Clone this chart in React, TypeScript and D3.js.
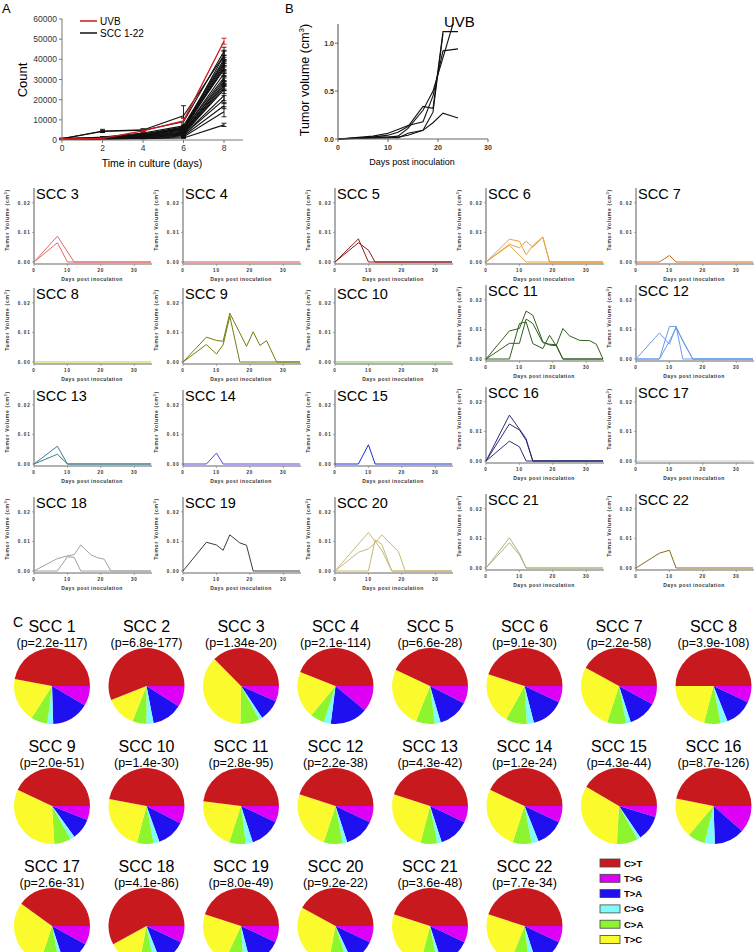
import React from 'react';
import * as d3 from 'd3';

const FONT = "'Liberation Sans', Arial, Helvetica, sans-serif";

// ---------- Panel A data ----------
const growthDays = [0, 2, 4, 6, 8];
const growthTicksY = [0, 10000, 20000, 30000, 40000, 50000, 60000];
const uvbGrowth = [500, 800, 4500, 9500, 49000];
const uvbGrowthErr = [200, 300, 500, 1200, 1500];
const sccGrowth = [
  [600, 4500, 5000, 12000, 42000],
  [700, 4200, 4800, 9000, 44000],
  [500, 1500, 3500, 7000, 40000],
  [600, 800, 3000, 6000, 38000],
  [500, 700, 2500, 5000, 36000],
  [800, 1200, 3000, 5500, 42000],
  [600, 900, 2000, 4500, 33000],
  [500, 600, 1800, 4000, 30000],
  [700, 1000, 2500, 6000, 35000],
  [400, 500, 1500, 3500, 28000],
  [600, 800, 2200, 5000, 31000],
  [500, 700, 1600, 3000, 26000],
  [500, 600, 1500, 3500, 27000],
  [600, 900, 2800, 6500, 39000],
  [500, 600, 1200, 2500, 22000],
  [400, 500, 1000, 2000, 17000],
  [500, 700, 1400, 3000, 25000],
  [600, 800, 2000, 4000, 29000],
  [400, 500, 900, 1500, 14000],
  [500, 600, 1100, 2500, 20000],
  [300, 400, 700, 1000, 7500],
  [500, 800, 2500, 5500, 37000],
];
const sccGrowthErr = [
  [100, 800, 600, 5000, 2500],
  [100, 500, 500, 2000, 2000],
  [100, 200, 300, 800, 2000],
  [100, 100, 300, 700, 1800],
  [100, 100, 300, 600, 2200],
  [100, 200, 300, 600, 2000],
  [100, 100, 200, 500, 1500],
  [100, 100, 200, 500, 2000],
  [100, 100, 300, 600, 1800],
  [100, 100, 200, 400, 1500],
  [100, 100, 200, 500, 2000],
  [100, 100, 200, 400, 1500],
  [100, 100, 200, 400, 1800],
  [100, 100, 300, 700, 2000],
  [100, 100, 200, 300, 2500],
  [100, 100, 100, 300, 1500],
  [100, 100, 200, 400, 2000],
  [100, 100, 200, 400, 1800],
  [100, 100, 100, 200, 2500],
  [100, 100, 100, 300, 2000],
  [100, 100, 100, 200, 800],
  [100, 100, 300, 600, 2000],
];

// ---------- Panel B data (days, volume cm3) ----------
const uvbTumor1 = [[0, 0], [7, 0.02], [10, 0.04], [12, 0.07], [14, 0.13], [17, 0.34], [19, 0.32], [21, 1.12], [24, 1.12]];
const uvbTumor2 = [[0, 0], [7, 0.03], [10, 0.06], [12, 0.1], [14, 0.14], [17, 0.18], [19, 0.45], [21, 0.92], [24, 0.94]];
const uvbTumor3 = [[0, 0], [7, 0.01], [10, 0.02], [12, 0.03], [14, 0.11], [17, 0.3], [19, 0.5], [23, 1.2]];
const uvbTumor4 = [[0, 0], [7, 0.01], [10, 0.01], [12, 0.02], [14, 0.04], [17, 0.09], [19, 0.17], [21, 0.27], [24, 0.22]];
const uvbTumor5 = [[0, 0], [7, 0.02], [10, 0.02], [12, 0.01], [14, 0.06], [17, 0.09], [19, 0.28], [21, 1.1]];
const uvbTumorLines = [uvbTumor1, uvbTumor2, uvbTumor3, uvbTumor4, uvbTumor5];

// ---------- Small multiples data ----------
const multiNames = ['SCC 3', 'SCC 4', 'SCC 5', 'SCC 6', 'SCC 7', 'SCC 8', 'SCC 9', 'SCC 10', 'SCC 11', 'SCC 12',
  'SCC 13', 'SCC 14', 'SCC 15', 'SCC 16', 'SCC 17', 'SCC 18', 'SCC 19', 'SCC 20', 'SCC 21', 'SCC 22'];
const multiColors = ['#e26868', '#d94a4a', '#8b1c1c', '#e8a33d', '#d2691e', '#c9c93c', '#7a7a10', '#7cc04a', '#2f5f1f', '#6a9be8',
  '#3e7c8c', '#6040e8', '#1a2ed0', '#2c2c7a', '#c8c8c8', '#a0a0a0', '#3a3a3a', '#c8b878', '#b0b080', '#8a6a1a'];
const scc3 = [[[0, 0], [7, 0.0087], [12, 0]], [[0, 0], [7, 0.0065], [10, 0]]];
const scc4 = [[[0, 0], [35, 0]]];
const scc5 = [[[0, 0], [7, 0.0078], [10, 0]], [[0, 0], [7, 0.0065], [10, 0.004], [12, 0]]];
const scc6 = [
  [[0, 0], [7, 0.0077], [10, 0.007], [12, 0.0025], [14, 0.0055], [17, 0.0085], [19, 0]],
  [[0, 0], [7, 0.006], [10, 0.0048], [12, 0.007], [14, 0.005], [17, 0.0083], [19, 0]],
  [[0, 0], [7, 0.0057], [12, 0]],
];
const scc7 = [[[0, 0], [7, 0], [10, 0.0022], [12, 0]]];
const scc8 = [[[0, 0], [35, 0]]];
const scc9 = [
  [[0, 0], [7, 0.0084], [10, 0.0073], [12, 0.007], [14, 0.0165], [19, 0.0053], [21, 0.0102], [23, 0.0056], [25, 0.0072], [28, 0]],
  [[0, 0], [7, 0.0059], [10, 0.0027], [12, 0.0058], [14, 0.0155], [17, 0]],
];
const scc10 = [[[0, 0], [35, 0]]];
const scc11 = [
  [[0, 0], [7, 0.0095], [10, 0.0103], [12, 0.0162], [14, 0.0148], [17, 0.0058], [19, 0.0047], [21, 0.0045], [23, 0.0103], [25, 0.0078], [28, 0.0063], [31, 0.0062], [33, 0.005], [35, 0]],
  [[0, 0], [7, 0.0053], [10, 0.0053], [12, 0.0135], [14, 0.012], [17, 0.0055], [19, 0.005], [21, 0.0048], [23, 0]],
  [[0, 0], [7, 0], [10, 0.012], [12, 0.0125], [14, 0.0052], [17, 0.0035], [19, 0.008], [21, 0.0045], [23, 0]],
];
const scc12 = [
  [[0, 0], [7, 0.0088], [10, 0.005], [12, 0.011], [14, 0]],
  [[0, 0], [7, 0], [10, 0.011], [12, 0.011], [14, 0.006], [17, 0]],
  [[0, 0], [7, 0], [10, 0.006], [12, 0.0105], [17, 0]],
];
const scc13 = [[[0, 0], [7, 0.006], [10, 0]], [[0, 0], [7, 0.0033], [10, 0]]];
const scc14 = [[[0, 0], [7, 0], [10, 0.0037], [12, 0]]];
const scc15 = [[[0, 0], [7, 0], [10, 0.0065], [12, 0]]];
const scc16 = [
  [[0, 0], [7, 0.0155], [10, 0.0108], [12, 0.0075], [14, 0]],
  [[0, 0], [7, 0.0125], [10, 0.0105], [12, 0.007], [14, 0]],
  [[0, 0], [7, 0.0067], [10, 0.0048], [12, 0]],
];
const scc17 = [[[0, 0], [35, 0]]];
const scc18 = [
  [[0, 0], [7, 0.0042], [10, 0.0051], [12, 0.0055], [14, 0.0088], [17, 0.0055], [19, 0.0045], [21, 0.004], [23, 0]],
  [[0, 0], [7, 0], [10, 0.0048], [12, 0.0046], [14, 0]],
];
const scc19 = [[[0, 0], [7, 0.0097], [10, 0.0088], [12, 0.007], [14, 0.0122], [17, 0.0095], [19, 0.0087], [21, 0]]];
const scc20 = [
  [[0, 0], [10, 0.013], [12, 0.01], [14, 0.007], [17, 0]],
  [[0, 0], [7, 0.0063], [10, 0.0075], [12, 0.0095], [14, 0.0122], [19, 0.0065], [21, 0]],
  [[0, 0], [7, 0], [10, 0], [12, 0.0105], [14, 0.009], [17, 0]],
];
const scc21 = [[[0, 0], [7, 0.0102], [10, 0.005], [12, 0]], [[0, 0], [7, 0.0085], [10, 0.0045], [12, 0]]];
const scc22 = [[[0, 0], [7, 0.005], [10, 0.006], [12, 0]]];
const multiData = [scc3, scc4, scc5, scc6, scc7, scc8, scc9, scc10, scc11, scc12, scc13, scc14, scc15, scc16, scc17, scc18, scc19, scc20, scc21, scc22];
const multiTicksX = [0, 10, 20, 30];
const multiTicksY = [0, 0.01, 0.02];

// ---------- Pie data ----------
const mutationTypes = ['C>T', 'T>G', 'T>A', 'C>G', 'C>A', 'T>C'];
const mutationColors = ['#c8191e', '#dd00f5', '#1f10f0', '#80fafa', '#8cf52e', '#fafa2c'];
const pieNames = ['SCC 1', 'SCC 2', 'SCC 3', 'SCC 4', 'SCC 5', 'SCC 6', 'SCC 7', 'SCC 8', 'SCC 9', 'SCC 10', 'SCC 11',
  'SCC 12', 'SCC 13', 'SCC 14', 'SCC 15', 'SCC 16', 'SCC 17', 'SCC 18', 'SCC 19', 'SCC 20', 'SCC 21', 'SCC 22'];
const piePValues = ['2.2e-117', '6.8e-177', '1.34e-20', '2.1e-114', '6.6e-28', '9.1e-30', '2.2e-58', '3.9e-108',
  '2.0e-51', '1.4e-30', '2.8e-95', '2.2e-38', '4.3e-42', '1.2e-24', '4.3e-44', '8.7e-126',
  '2.6e-31', '4.1e-86', '8.0e-49', '9.2e-22', '3.6e-48', '7.7e-34'];
const fracCT = [0.47, 0.56, 0.37, 0.44, 0.43, 0.45, 0.42, 0.50, 0.43, 0.47, 0.48, 0.45, 0.45, 0.43, 0.42, 0.47, 0.40, 0.58, 0.45, 0.42, 0.45, 0.45];
const fracTG = [0.085, 0.09, 0.065, 0.11, 0.075, 0.07, 0.08, 0.07, 0.06, 0.075, 0.07, 0.07, 0.07, 0.07, 0.047, 0.115, 0.08, 0.07, 0.07, 0.07, 0.07, 0.07];
const fracTA = [0.16, 0.13, 0.09, 0.16, 0.13, 0.14, 0.12, 0.12, 0.09, 0.12, 0.13, 0.13, 0.13, 0.12, 0.11, 0.13, 0.12, 0.12, 0.14, 0.11, 0.13, 0.13];
const fracCG = [0.025, 0.03, 0.015, 0.03, 0.025, 0.03, 0.02, 0.03, 0.02, 0.025, 0.03, 0.02, 0.02, 0.03, 0.015, 0.043, 0.02, 0.03, 0.03, 0.02, 0.02, 0.03];
const fracCA = [0.07, 0.06, 0.08, 0.06, 0.08, 0.09, 0.08, 0.07, 0.07, 0.07, 0.07, 0.08, 0.07, 0.08, 0.09, 0.075, 0.08, 0.06, 0.08, 0.08, 0.07, 0.08];
const fracTC = [0.19, 0.13, 0.37, 0.20, 0.26, 0.22, 0.28, 0.21, 0.33, 0.24, 0.22, 0.25, 0.26, 0.27, 0.33, 0.17, 0.30, 0.14, 0.23, 0.30, 0.26, 0.24];

function PanelA() {
  const x = d3.scaleLinear().domain([0, 8]).range([62, 224]);
  const y = d3.scaleLinear().domain([0, 60000]).range([140, 19]);
  const line = d3.line<number>().x((_, i) => x(growthDays[i])).y((d) => y(d));
  const errBars = (vals: number[], errs: number[], color: string, key: string) =>
    vals.map((v, i) => {
      const e = errs[i];
      const xx = x(growthDays[i]);
      return (
        <g key={key + i} stroke={color} strokeWidth={0.9}>
          <line x1={xx} x2={xx} y1={y(v - e)} y2={y(v + e)} />
          <line x1={xx - 2.5} x2={xx + 2.5} y1={y(v + e)} y2={y(v + e)} />
          <line x1={xx - 2.5} x2={xx + 2.5} y1={y(v - e)} y2={y(v - e)} />
        </g>
      );
    });
  return (
    <g>
      <text x={2} y={13} fontSize={13}>A</text>
      {sccGrowth.map((s, i) => (
        <path key={'l' + i} d={line(s) || ''} fill="none" stroke="#111" strokeWidth={1.1} />
      ))}
      {sccGrowth.map((s, i) => errBars(s, sccGrowthErr[i], '#111', 'e' + i))}
      <path d={line(uvbGrowth) || ''} fill="none" stroke="#d01818" strokeWidth={1.3} />
      {errBars(uvbGrowth, uvbGrowthErr, '#d01818', 'u')}
      <line x1={62} x2={62} y1={19} y2={140} stroke="#777" strokeWidth={1} />
      <line x1={62} x2={243} y1={140} y2={140} stroke="#777" strokeWidth={1} />
      {growthTicksY.map((t) => (
        <g key={'yt' + t}>
          <line x1={59} x2={62} y1={y(t)} y2={y(t)} stroke="#777" />
          <text x={57} y={y(t) + 3} fontSize={8.5} textAnchor="end" fill="#333">{t}</text>
        </g>
      ))}
      {growthDays.map((t) => (
        <g key={'xt' + t}>
          <line x1={x(t)} x2={x(t)} y1={140} y2={143} stroke="#777" />
          <text x={x(t)} y={151} fontSize={8.5} textAnchor="middle" fill="#333">{t}</text>
        </g>
      ))}
      <text transform="translate(27,80) rotate(-90)" fontSize={13} textAnchor="middle">Count</text>
      <text x={152} y={167} fontSize={10.5} textAnchor="middle">Time in culture (days)</text>
      <line x1={80} x2={97} y1={21} y2={21} stroke="#d01818" strokeWidth={1.5} />
      <text x={100} y={24.5} fontSize={10}>UVB</text>
      <line x1={80} x2={97} y1={33} y2={33} stroke="#111" strokeWidth={1.5} />
      <text x={100} y={36.5} fontSize={10}>SCC 1-22</text>
    </g>
  );
}

function PanelB() {
  const x = d3.scaleLinear().domain([0, 30]).range([338, 488]);
  const y = d3.scaleLinear().domain([0, 1.2]).range([139, 24]);
  const line = d3.line<number[]>().x((d) => x(d[0])).y((d) => y(d[1]));
  return (
    <g>
      <text x={285} y={13} fontSize={13}>B</text>
      {uvbTumorLines.map((l, i) => (
        <path key={i} d={line(l) || ''} fill="none" stroke="#111" strokeWidth={1.1} />
      ))}
      <line x1={338} x2={338} y1={24} y2={139} stroke="#666" strokeWidth={1.2} />
      <line x1={338} x2={488} y1={139} y2={139} stroke="#666" strokeWidth={1.2} />
      {[0, 0.5, 1.0].map((t) => (
        <g key={'y' + t}>
          <line x1={335} x2={338} y1={y(t)} y2={y(t)} stroke="#666" />
          <text x={334} y={y(t) + 2.5} fontSize={7} fontWeight="bold" textAnchor="end" fill="#333">{d3.format('.1f')(t)}</text>
        </g>
      ))}
      {[0, 10, 20, 30].map((t) => (
        <g key={'x' + t}>
          <line x1={x(t)} x2={x(t)} y1={139} y2={142} stroke="#666" />
          <text x={x(t)} y={150} fontSize={7} fontWeight="bold" textAnchor="middle" fill="#333">{t}</text>
        </g>
      ))}
      <text x={444} y={27} fontSize={15}>UVB</text>
      <text transform="translate(309,80) rotate(-90)" fontSize={12.5} textAnchor="middle">
        Tumor volume (cm<tspan fontSize={8} dy={-5}>3</tspan><tspan dy={5}>)</tspan>
      </text>
      <text x={412} y={165} fontSize={9} textAnchor="middle">Days post inoculation</text>
    </g>
  );
}

const colX = [34, 183, 335, 486, 636];
const rowY = [262, 362, 464, 571];

function Cell({ idx }: { idx: number }) {
  const r = Math.floor(idx / 5);
  const c = idx % 5;
  const x0 = colX[c];
  const y0 = rowY[r] - (r > 0 && c >= 3 ? 3 : 0);
  const x = d3.scaleLinear().domain([0, 35]).range([x0, x0 + 117]);
  const y = d3.scaleLinear().domain([0, 0.025]).range([y0, y0 - 74]);
  const line = d3.line<number[]>().x((d) => x(d[0])).y((d) => y(d[1]));
  const color = multiColors[idx];
  const lines = multiData[idx].map((l) => {
    const last = l[l.length - 1];
    return last[0] < 35 && last[1] === 0 ? [...l, [35, 0]] : l;
  });
  return (
    <g>
      <line x1={x0} x2={x0} y1={y0 - 74} y2={y0 + 2} stroke="#999" strokeWidth={1.6} />
      <line x1={x0} x2={x0 + 118} y1={y0 + 2} y2={y0 + 2} stroke="#999" strokeWidth={1.4} />
      {lines.map((l, i) => (
        <path key={i} d={line(l) || ''} fill="none" stroke={color} strokeWidth={1} />
      ))}
      {multiTicksY.map((t) => (
        <g key={'y' + t}>
          <line x1={x0 - 2} x2={x0} y1={y(t)} y2={y(t)} stroke="#777" strokeWidth={0.6} />
          <text x={x0 - 3} y={y(t) + 1.7} fontSize={4.6} fontWeight="bold" letterSpacing={1.1} textAnchor="end" fill="#333">{d3.format('.2f')(t)}</text>
        </g>
      ))}
      {multiTicksX.map((t) => (
        <g key={'x' + t}>
          <line x1={x(t)} x2={x(t)} y1={y0 + 2} y2={y0 + 4} stroke="#777" strokeWidth={0.6} />
          <text x={x(t)} y={y0 + 10} fontSize={4.6} fontWeight="bold" letterSpacing={0.8} textAnchor="middle" fill="#333">{t}</text>
        </g>
      ))}
      <text x={x0 + 58} y={y0 + 19} fontSize={5} fontWeight="bold" letterSpacing={0.45} textAnchor="middle" fill="#333">Days post inoculation</text>
      <text transform={`translate(${x0 - 25},${y0 - 42}) rotate(-90)`} fontSize={5} fontWeight="bold" letterSpacing={0.75} textAnchor="middle" fill="#333">
        Tumor Volume (cm<tspan fontSize={3.5} dy={-2}>3</tspan><tspan dy={2}>)</tspan>
      </text>
      <text x={x0 + 2} y={y0 - 63} fontSize={14.5}>{multiNames[idx]}</text>
    </g>
  );
}

function Pies() {
  const arc = d3.arc<d3.PieArcDatum<number>>().innerRadius(0).outerRadius(38);
  // clockwise from 3 o'clock: T>G, T>A, C>G, C>A, T>C, C>T
  const order = [1, 2, 3, 4, 5, 0];
  const pie = d3.pie<number>().sort(null).startAngle(Math.PI / 2).endAngle(Math.PI / 2 + 2 * Math.PI);
  const fracs = [fracCT, fracTG, fracTA, fracCG, fracCA, fracTC];
  return (
    <g>
      <text x={13} y={627} fontSize={14}>C</text>
      {pieNames.map((name, i) => {
        const row = Math.floor(i / 8);
        const col = i % 8;
        const cx = 52 + col * 94.5;
        const cy = 686 + row * 120;
        const vals = order.map((k) => fracs[k][i]);
        const arcs = pie(vals);
        return (
          <g key={name}>
            <text x={cx} y={cy - 54} fontSize={16} textAnchor="middle">{name}</text>
            <text x={cx} y={cy - 39} fontSize={12.5} textAnchor="middle">(p={piePValues[i]})</text>
            <g transform={`translate(${cx},${cy})`}>
              {arcs.map((a, j) => (
                <path key={j} d={arc(a) || ''} fill={mutationColors[order[j]]} />
              ))}
            </g>
          </g>
        );
      })}
      {mutationTypes.map((m, i) => (
        <g key={m}>
          <rect x={600} y={859 + i * 15.3} width={20} height={8} fill={mutationColors[i]} stroke="#444" strokeWidth={0.8} />
          <text x={624} y={866.5 + i * 15.3} fontSize={9.5} fontWeight="bold">{m}</text>
        </g>
      ))}
    </g>
  );
}

export default function App() {
  return (
    <svg width={756} height={952} style={{ position: 'absolute', left: 0, top: 0, background: '#fff' }} fontFamily={FONT}>
      <rect width={756} height={952} fill="#fff" />
      <PanelA />
      <PanelB />
      {multiNames.map((_, i) => <Cell key={i} idx={i} />)}
      <Pies />
    </svg>
  );
}
